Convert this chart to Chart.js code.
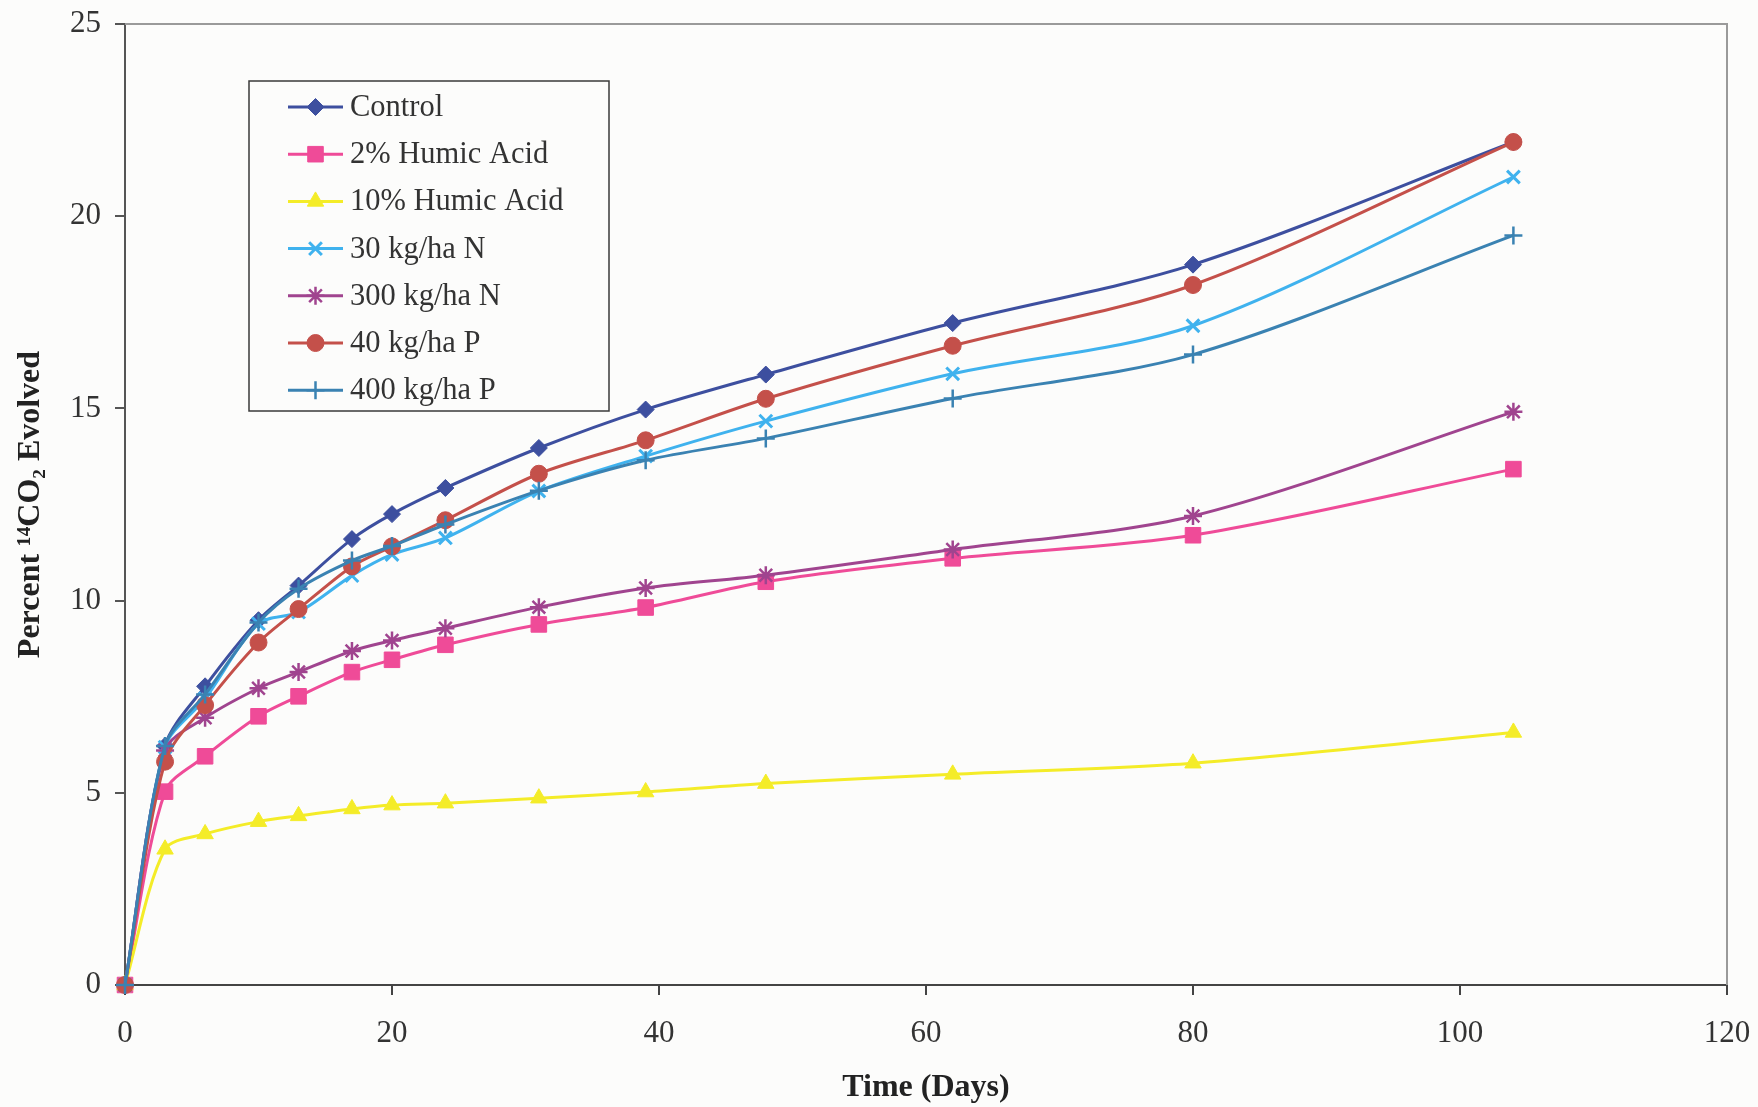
<!DOCTYPE html>
<html>
<head>
<meta charset="utf-8">
<script src="https://cdn.jsdelivr.net/npm/chart.js@4.4.0/dist/chart.umd.min.js"></script>
<style>
html,body{margin:0;padding:0;background:#fcfcfb;}
#wrap{width:1758px;height:1107px;}
canvas{display:block;}
</style>
</head>
<body>
<div id="wrap"><canvas id="c" width="1758" height="1107"></canvas></div>
<script>
// ---- data ----
const days = [0, 3, 6, 10, 13, 17, 20, 24, 31, 39, 48, 62, 80, 104];
const seriesNames = ['Control', '2% Humic Acid', '10% Humic Acid', '30 kg/ha N', '300 kg/ha N', '40 kg/ha P', '400 kg/ha P'];
const control = [0, 6.22, 7.77, 9.49, 10.39, 11.6, 12.25, 12.93, 13.97, 14.97, 15.88, 17.22, 18.74, 21.93];
const humic2  = [0, 5.03, 5.95, 6.99, 7.51, 8.14, 8.46, 8.85, 9.38, 9.82, 10.49, 11.1, 11.7, 13.42];
const humic10 = [0, 3.53, 3.93, 4.25, 4.4, 4.58, 4.68, 4.73, 4.86, 5.02, 5.24, 5.48, 5.77, 6.57];
const n30     = [0, 6.19, 7.45, 9.4, 9.7, 10.65, 11.2, 11.63, 12.85, 13.76, 14.67, 15.9, 17.15, 21.02];
const n300    = [0, 6.1, 6.95, 7.72, 8.14, 8.69, 8.96, 9.28, 9.83, 10.33, 10.66, 11.33, 12.2, 14.91];
const p40     = [0, 5.81, 7.28, 8.91, 9.78, 10.89, 11.41, 12.09, 13.3, 14.17, 15.25, 16.63, 18.21, 21.93];
const p400    = [0, 6.22, 7.56, 9.43, 10.31, 11.04, 11.42, 11.98, 12.86, 13.65, 14.22, 15.26, 16.4, 19.5];
const xTickValues = [0, 20, 40, 60, 80, 100, 120];
const yTickValues = [0, 5, 10, 15, 20, 25];
const xTitle = 'Time (Days)';
const yTitle = 'Percent \u00B9\u2074CO\u2082 Evolved';

// ---- styles ----
const seriesValues = [control, humic2, humic10, n30, n300, p40, p400];
const colors = ['#3d4f9f', '#ef4b98', '#f4ec28', '#3fb2ee', '#a0448f', '#c4504a', '#3a82b2'];
const styles = ['rectRot', 'rect', 'triangle', 'crossRot', 'star', 'circle', 'cross'];
const radii  = [8.5, 11, 9.5, 9, 9, 8.5, 9];
const pBorder = [1, 1, 1, 3, 2.5, 1, 2.5];

const datasets = seriesNames.map((name, i) => ({
  label: name,
  data: days.map((d, j) => ({x: d, y: seriesValues[i][j]})),
  borderColor: colors[i],
  backgroundColor: colors[i],
  pointBackgroundColor: colors[i],
  pointBorderColor: colors[i],
  pointStyle: styles[i],
  pointRadius: radii[i],
  pointBorderWidth: pBorder[i],
  borderWidth: 3,
  tension: 0.3,
  clip: false,
  order: 7 - i
}));

const FONT = "'Liberation Serif', 'Times New Roman', serif";

const framePlugin = {
  id: 'frame',
  beforeDatasetsDraw(chart) {
    const {ctx, chartArea: a} = chart;
    ctx.save();
    ctx.strokeStyle = '#9a9a9a';
    ctx.lineWidth = 2;
    ctx.beginPath();
    ctx.moveTo(a.left, a.top);
    ctx.lineTo(a.right, a.top);
    ctx.lineTo(a.right, a.bottom);
    ctx.stroke();
    ctx.restore();
  }
};

const boxLegend = {
  id: 'boxLegend',
  afterDraw(chart) {
    const {ctx} = chart;
    const left = 249, top = 81, w = 360, h = 330;
    ctx.save();
    ctx.strokeStyle = '#3a3a3a';
    ctx.lineWidth = 1.5;
    ctx.strokeRect(left, top, w, h);
    ctx.font = '30.5px ' + FONT;
    ctx.textBaseline = 'middle';
    ctx.textAlign = 'left';
    chart.data.datasets.forEach((ds, i) => {
      const y = top + 26 + i * 47.2;
      ctx.strokeStyle = ds.borderColor;
      ctx.fillStyle = ds.borderColor;
      ctx.lineWidth = 3;
      ctx.beginPath();
      ctx.moveTo(left + 39, y);
      ctx.lineTo(left + 94, y);
      ctx.stroke();
      if (Chart.helpers && Chart.helpers.drawPoint) {
        ctx.lineWidth = ds.pointBorderWidth;
        Chart.helpers.drawPoint(ctx, {pointStyle: ds.pointStyle, radius: ds.pointRadius, borderWidth: ds.pointBorderWidth, rotation: 0}, left + 66.5, y);
      }
      ctx.fillStyle = '#333333';
      ctx.fillText(ds.label, left + 101, y + 1);
    });
    ctx.restore();
  }
};

new Chart(document.getElementById('c'), {
  type: 'line',
  data: {datasets},
  options: {
    responsive: false,
    animation: false,
    devicePixelRatio: 1,
    layout: {padding: {left: 0, top: 24, right: 31, bottom: 0}},
    plugins: {
      legend: {display: false},
      tooltip: {enabled: false}
    },
    scales: {
      x: {
        type: 'linear',
        min: 0, max: 120,
        afterFit(scale) { scale.height = 122; scale.paddingLeft = 0; scale.paddingRight = 0; },
        afterBuildTicks(scale) { scale.ticks = xTickValues.map(v => ({value: v})); },
        grid: {display: true, drawOnChartArea: false, drawTicks: true, tickLength: 10, color: '#444', lineWidth: 2},
        border: {display: true, color: '#444', width: 2},
        ticks: {color: '#333', font: {family: FONT, size: 31}, padding: 20, maxRotation: 0},
        title: {display: true, text: xTitle, color: '#222', font: {family: FONT, size: 32, weight: 'bold'}, padding: {top: 0, bottom: 0}}
      },
      y: {
        type: 'linear',
        min: 0, max: 25,
        afterFit(scale) { scale.width = 125; scale.paddingTop = 0; scale.paddingBottom = 0; },
        afterBuildTicks(scale) { scale.ticks = yTickValues.map(v => ({value: v})); },
        grid: {display: true, drawOnChartArea: false, drawTicks: true, tickLength: 10, color: '#555', lineWidth: 2},
        border: {display: true, color: '#555', width: 2},
        ticks: {color: '#333', font: {family: FONT, size: 31}, padding: 14},
        title: {display: true, text: yTitle, color: '#222', font: {family: FONT, size: 32, weight: 'bold'}, padding: {top: 12, bottom: 0}}
      }
    }
  },
  plugins: [framePlugin, boxLegend]
});
</script>
</body>
</html>
